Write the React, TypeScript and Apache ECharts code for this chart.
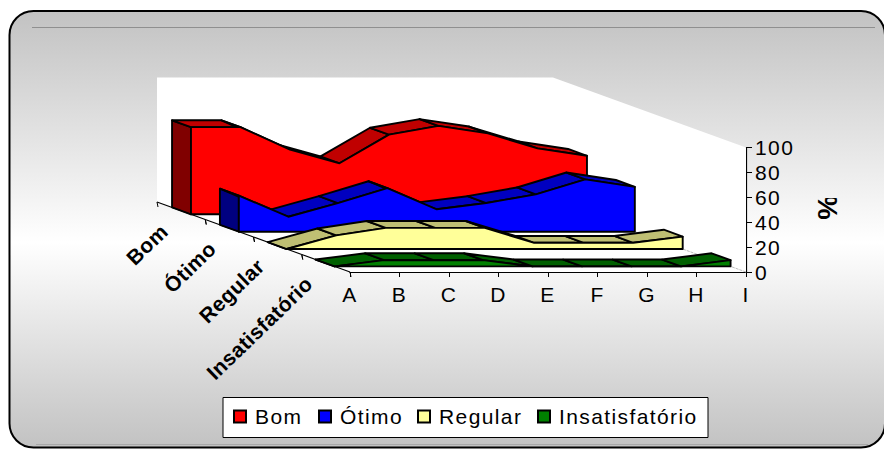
import React, { useEffect, useRef } from "react";
import * as echarts from "echarts";

const categories = ["A", "B", "C", "D", "E", "F", "G", "H", "I"];
const bom = [70, 70, 52, 41, 64, 71, 65, 53, 47];
const otimo = [29, 12, 23, 35, 18, 23, 30, 42, 36];
const regular = [0, 11, 17, 17, 17, 5, 5, 5, 10];
const insatisfatorio = [0, 5, 5, 5, 0, 0, 0, 0, 5];
const depthLabels = ["Insatisfatório", "Regular", "Ótimo", "Bom"];
const FONT = "'Liberation Sans', Arial, sans-serif";

// depth projection of the 3D view, in pixels
const DEPTH_X = -193;
const DEPTH_Y = -70;
const bandOffset = (band: number) => (0.08 + 0.248 * band);
const BAND_THICK = 0.098;

const layers = [
  { name: "Bom", band: 3, values: bom, front: "#ff0000", top: "#c00000", side: "#800000" },
  { name: "Ótimo", band: 2, values: otimo, front: "#0000ff", top: "#0000c0", side: "#000080" },
  { name: "Regular", band: 1, values: regular, front: "#ffff99", top: "#bfbf73", side: "#808060" },
  { name: "Insatisfatório", band: 0, values: insatisfatorio, front: "#008000", top: "#006000", side: "#004000" },
];
const legendLefts = [233, 318, 417, 537];

const line = { stroke: "#000", lineWidth: 1.9, lineJoin: "round" as const };

function layerSeries(l: (typeof layers)[number]) {
  return {
    type: "custom",
    name: l.name,
    coordinateSystem: "cartesian2d",
    clip: false,
    silent: true,
    itemStyle: { color: l.front },
    data: l.values.map((v, k) => [k, v]),
    renderItem: (p: any, api: any) => {
      if (p.dataIndex !== 0) return null;
      const f = bandOffset(l.band);
      const fx = DEPTH_X * f;
      const fy = DEPTH_Y * f;
      const bx = fx + DEPTH_X * BAND_THICK;
      const by = fy + DEPTH_Y * BAND_THICK;
      const tops = l.values.map((v, k) => api.coord([k, v]));
      const bases = l.values.map((_, k) => api.coord([k, 0]));
      const at = (q: number[], dx: number, dy: number) => [q[0] + dx, q[1] + dy];
      const children: any[] = [];
      children.push({
        type: "polygon",
        shape: { points: [at(tops[0], fx, fy), at(tops[0], bx, by), at(bases[0], bx, by), at(bases[0], fx, fy)] },
        style: { fill: l.side, ...line },
      });
      for (let k = 0; k < tops.length - 1; k++) {
        children.push({
          type: "polygon",
          shape: {
            points: [at(tops[k], fx, fy), at(tops[k], bx, by), at(tops[k + 1], bx, by), at(tops[k + 1], fx, fy)],
          },
          style: { fill: l.top, ...line },
        });
      }
      const frontPts = [
        ...tops.map((q: number[]) => at(q, fx, fy)),
        ...bases.slice().reverse().map((q: number[]) => at(q, fx, fy)),
      ];
      children.push({ type: "polygon", shape: { points: frontPts }, style: { fill: l.front, ...line } });
      return { type: "group", children };
    },
  };
}

const wallSeries = {
  type: "custom",
  name: "wall",
  coordinateSystem: "cartesian2d",
  clip: false,
  silent: true,
  data: [[0, 0]],
  renderItem: (_: any, api: any) => {
    const o0 = api.coord([0, 0]);
    const o1 = api.coord([categories.length - 1, 0]);
    const t1 = api.coord([categories.length - 1, 100]);
    const t0 = [o0[0] + DEPTH_X, t1[1] + DEPTH_Y];
    const t2 = [o1[0] + DEPTH_X, t1[1] + DEPTH_Y];
    return {
      type: "group",
      children: [
        {
          type: "polygon",
          shape: { points: [t0, t2, t1, o1, o0, [o0[0] + DEPTH_X, o0[1] + DEPTH_Y]] },
          style: { fill: "#ffffff" },
        },
        {
          type: "line",
          shape: { x1: o1[0], y1: o1[1], x2: o1[0] + DEPTH_X, y2: o1[1] + DEPTH_Y },
          style: { stroke: "#bdbdbd", lineWidth: 1, lineDash: [3, 1] },
        },
      ],
    };
  },
};

const depthAxisSeries = {
  type: "custom",
  name: "depth",
  coordinateSystem: "cartesian2d",
  clip: false,
  silent: true,
  data: depthLabels.map((_, i) => [0, i]),
  renderItem: (p: any, api: any) => {
    const o = api.coord([0, 0]);
    const i = p.dataIndex;
    const n = depthLabels.length;
    const pos = (t: number) => [o[0] + (DEPTH_X * t) / n, o[1] + (DEPTH_Y * t) / n];
    const a = pos(i);
    const b = pos(i + 1);
    const mid = pos(i + 0.5);
    const tick = (q: number[]) => ({
      type: "line",
      shape: { x1: q[0], y1: q[1], x2: q[0] + 1, y2: q[1] + 5 },
      style: { stroke: "#000", lineWidth: 1 },
    });
    return {
      type: "group",
      children: [
        { type: "line", shape: { x1: a[0], y1: a[1], x2: b[0], y2: b[1] }, style: { stroke: "#000", lineWidth: 1.2 } },
        tick(a),
        tick(b),
        {
          type: "text",
          x: mid[0] - 17,
          y: mid[1] + 17,
          rotation: (44 * Math.PI) / 180,
          style: {
            text: depthLabels[i],
            fontFamily: FONT,
            fontSize: 21,
            fontWeight: "bold",
            fill: "#000",
            align: "right",
            verticalAlign: "middle",
          },
        },
      ],
    };
  },
};

const unitSeries = {
  type: "custom",
  name: "unit",
  coordinateSystem: "cartesian2d",
  clip: false,
  silent: true,
  data: [[0, 0]],
  renderItem: () => ({
    type: "group",
    clipPath: { type: "rect", shape: { x: 800, y: 198, width: 60, height: 40 } },
    children: [
      {
        type: "text",
        x: 827,
        y: 207,
        rotation: Math.PI / 2,
        style: {
          text: "%",
          fontFamily: FONT,
          fontSize: 28,
          fontWeight: "bold",
          fill: "#000",
          align: "center",
          verticalAlign: "middle",
        },
      },
    ],
  }),
};

function buildOption() {
  return {
    animation: false,
    backgroundColor: "transparent",
    grid: { left: 350, top: 147.5, width: 396, height: 124.5, containLabel: false },
    xAxis: {
      type: "category",
      data: categories,
      boundaryGap: false,
      axisLine: { show: true, lineStyle: { color: "#000", width: 1.2 } },
      axisTick: { show: true, length: 5, lineStyle: { color: "#000" } },
      axisLabel: { color: "#000", fontFamily: FONT, fontSize: 21, margin: 12, interval: 0 },
      splitLine: { show: false },
    },
    yAxis: {
      type: "value",
      position: "right",
      min: 0,
      max: 100,
      interval: 20,
      axisLine: { show: true, lineStyle: { color: "#000", width: 1.2 } },
      axisTick: { show: true, length: 6, lineStyle: { color: "#000" } },
      axisLabel: { color: "#000", fontFamily: FONT, fontSize: 21, margin: 9 },
      splitLine: { show: false },
    },
    legend: layers.map((l, i) => ({
      show: true,
      left: legendLefts[i],
      top: 406,
      padding: 0,
      itemWidth: 12,
      itemHeight: 12,
      icon: "rect",
      selectedMode: false,
      textStyle: { color: "#000", fontFamily: FONT, fontSize: 21, padding: [0, 0, 0, 4] },
      data: [{ name: l.name, itemStyle: { color: l.front, borderColor: "#000", borderWidth: 2 } }],
    })),
    graphic: [
      {
        type: "rect",
        z: -10,
        shape: { x: 9.5, y: 11, width: 875.5, height: 436.5, r: 24 },
        style: {
          fill: new echarts.graphic.LinearGradient(0, 0, 0, 1, [
            { offset: 0, color: "#c2c2c2" },
            { offset: 0.53, color: "#ffffff" },
            { offset: 1, color: "#c2c2c2" },
          ]),
          stroke: "#000",
          lineWidth: 2,
        },
      },
      { type: "line", z: -9, shape: { x1: 32, y1: 27.5, x2: 875, y2: 27.5 }, style: { stroke: "#8f8f8f", lineWidth: 1 } },
      { type: "line", z: -9, shape: { x1: 36, y1: 444.5, x2: 868, y2: 444.5 }, style: { stroke: "#a8a8a8", lineWidth: 1 } },
      {
        type: "rect",
        z: -8,
        shape: { x: 223, y: 397.5, width: 485, height: 40 },
        style: { fill: "#fff", stroke: "#000", lineWidth: 1 },
      },
    ],
    series: [wallSeries, ...layers.map(layerSeries), depthAxisSeries, unitSeries],
  };
}

export default function App() {
  const ref = useRef<HTMLDivElement>(null);
  useEffect(() => {
    document.body.style.margin = "0";
    const chart = echarts.init(ref.current!, null, { renderer: "svg" });
    chart.setOption(buildOption() as any);
    return () => chart.dispose();
  }, []);
  return (
    <>
      <style>{`#root text{letter-spacing:1.4px}#root text[style*="bold"]{letter-spacing:.4px}`}</style>
      <div ref={ref} style={{ width: 884, height: 449 }} />
    </>
  );
}
